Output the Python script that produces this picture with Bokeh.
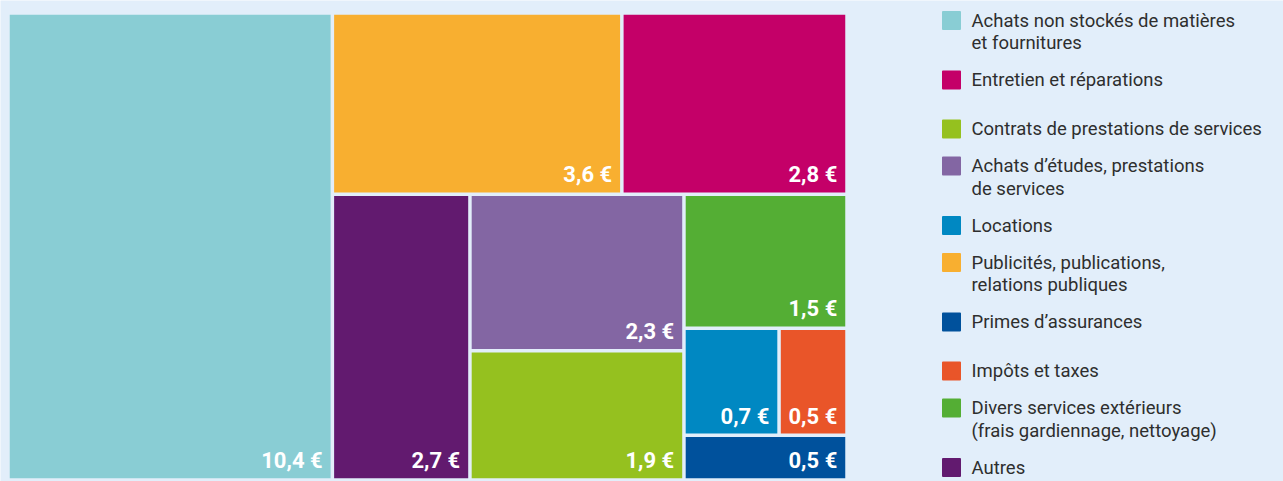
from bokeh.plotting import figure
from bokeh.models import Range1d, ColumnDataSource
from bokeh.core.properties import value
from bokeh.embed import file_html
from bokeh.resources import INLINE

# ---------------- data ----------------
categories = [
    "Achats non stockés de matières\net fournitures",
    "Entretien et réparations",
    "Contrats de prestations de services",
    "Achats d’études, prestations\nde services",
    "Locations",
    "Publicités, publications,\nrelations publiques",
    "Primes d’assurances",
    "Impôts et taxes",
    "Divers services extérieurs\n(frais gardiennage, nettoyage)",
    "Autres",
]
values = [10.4, 2.8, 1.9, 2.3, 0.7, 3.6, 0.5, 0.5, 1.5, 2.7]
colors = ["#89cdd4", "#c40068", "#95c11f", "#8366a3", "#0088c2",
          "#f8af30", "#00519c", "#e95529", "#54ae34", "#621a6f"]

# treemap arrangement (indices into the lists above)
tree = ("h", [0,
              ("v", [("h", [5, 1]),
                     ("h", [9,
                            ("v", [3, 2]),
                            ("v", [8, ("v", [("h", [4, 7]), 6])])])])])

# ---------------- layout ----------------
W, H = 1283, 481
BG = "#e2eefa"
GAP = 1.75
TXT_SHIFT = 0.36  # empirical baseline correction (fraction of font size)


def node_size(n):
    if isinstance(n, int):
        return values[n]
    return sum(node_size(c) for c in n[1])


def layout(n, x0, y0, x1, y1, out):
    if isinstance(n, int):
        out[n] = (x0, y0, x1, y1)
        return
    kind, children = n
    total = node_size(n)
    pos = x0 if kind == "h" else y0
    for c in children:
        frac = node_size(c) / total
        if kind == "h":
            w = (x1 - x0) * frac
            layout(c, pos, y0, pos + w, y1, out)
            pos += w
        else:
            h = (y1 - y0) * frac
            layout(c, x0, pos, x1, pos + h, out)
            pos += h


rects = {}
layout(tree, 7.5, 12.5, 846.5, 479.5, rects)
idx = list(range(len(values)))
left = [rects[i][0] + GAP for i in idx]
top = [rects[i][1] + GAP for i in idx]
right = [rects[i][2] - GAP for i in idx]
bottom = [rects[i][3] - GAP for i in idx]
labels = [f"{v:.1f}".replace(".", ",") + " €" for v in values]

p = figure(width=W, height=H, x_range=Range1d(0, W), y_range=Range1d(H, 0),
           output_backend="svg", toolbar_location=None, min_border=0)
p.axis.visible = False
p.grid.visible = False
p.outline_line_color = None
p.background_fill_color = BG
p.border_fill_color = BG

LBL_FS = 22
src = ColumnDataSource(dict(left=left, right=right, top=top, bottom=bottom,
                            color=colors, label=labels,
                            lx=[r - 8 for r in right],
                            ly=[b - 9.5 - TXT_SHIFT * LBL_FS for b in bottom]))
p.quad(left="left", right="right", top="top", bottom="bottom", source=src,
       fill_color="color", line_color=None)
p.text(x="lx", y="ly", text="label", source=src, text_align="right",
       text_baseline="alphabetic", text_color="white",
       text_font=value("Roboto"), text_font_style="bold",
       text_font_size=f"{LBL_FS}px")

# ---------------- legend ----------------
LEG_FS = 18.5
LINE_H = 22.5
extra_gap = {1: 12, 6: 12}
y = 20.0
centers, tx, ty, tt = [], [], [], []
for i, cat in enumerate(categories):
    centers.append(y)
    lines = cat.split("\n")
    for k, ln in enumerate(lines):
        tx.append(971)
        ty.append(y + 7 + k * LINE_H - TXT_SHIFT * LEG_FS)
        tt.append(ln)
    y += 37 + (len(lines) - 1) * LINE_H + extra_gap.get(i, 0)

p.scatter(x=[951] * len(centers), y=centers, marker="square", size=17,
          fill_color=colors, line_color=colors, line_width=2, line_join="round")
p.text(x=tx, y=ty, text=tt, text_align="left", text_baseline="alphabetic",
       text_color="#2e2e2e", text_font=value("Roboto"),
       text_font_size=f"{LEG_FS}px")

open("out.html", "w").write(file_html(p, INLINE))
